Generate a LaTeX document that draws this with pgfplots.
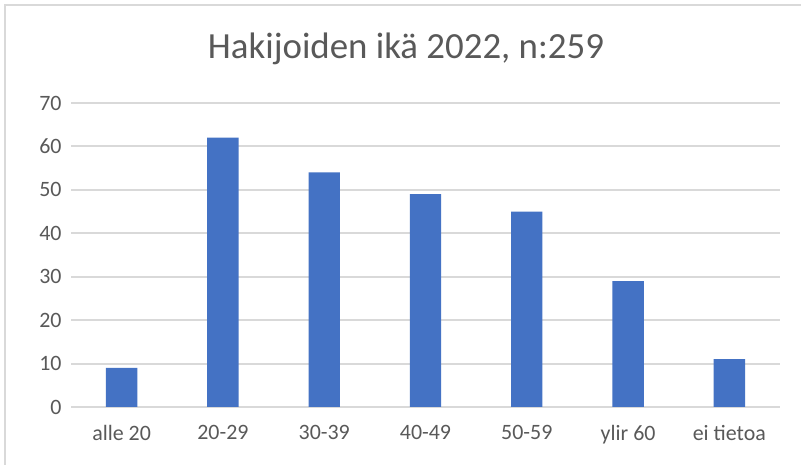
\documentclass[border=0pt]{standalone}
\usepackage{pgfplots}
\pgfplotsset{compat=1.18}
\usepackage{fontspec}
\setmainfont{Carlito}
\definecolor{txt}{HTML}{595959}
\definecolor{grd}{HTML}{D9D9D9}
\definecolor{bar}{HTML}{4472C4}
\begin{document}
\begin{tikzpicture}[x=1bp,y=1bp]
\useasboundingbox (0,0) rectangle (801,465);
\fill[white] (0,0) rectangle (801,465);
\draw[grd, line width=1.5bp] (5,0) -- (5,460) -- (801,460);
\node[text=txt, font=\fontsize{37}{42}\selectfont] at (406,416) {Hakijoiden ikä 2022, n:259};
\begin{axis}[
  at={(71bp,58bp)}, anchor=south west,
  scale only axis, width=709bp, height=304bp,
  xmin=-0.5, xmax=6.5, ymin=0, ymax=70,
  ytick={0,10,...,70},
  xtick={0,...,6},
  xticklabels={alle 20,20-29,30-39,40-49,50-59,ylir 60,ei tietoa},
  axis line style={draw=none},
  ymajorgrids, grid style={grd, line width=2bp},
  major tick length=0pt,
  tick label style={text=txt, font=\fontsize{22}{25}\selectfont},
  /pgf/number format/assume math mode=true,
  yticklabel style={xshift=-6bp},
  xticklabel style={yshift=-15bp},
  clip=false,
]
\addplot[ybar, bar width=0.31, fill=bar, draw=none] coordinates {(0,9) (1,62) (2,54) (3,49) (4,45) (5,29) (6,11)};
\end{axis}
\end{tikzpicture}
\end{document}
